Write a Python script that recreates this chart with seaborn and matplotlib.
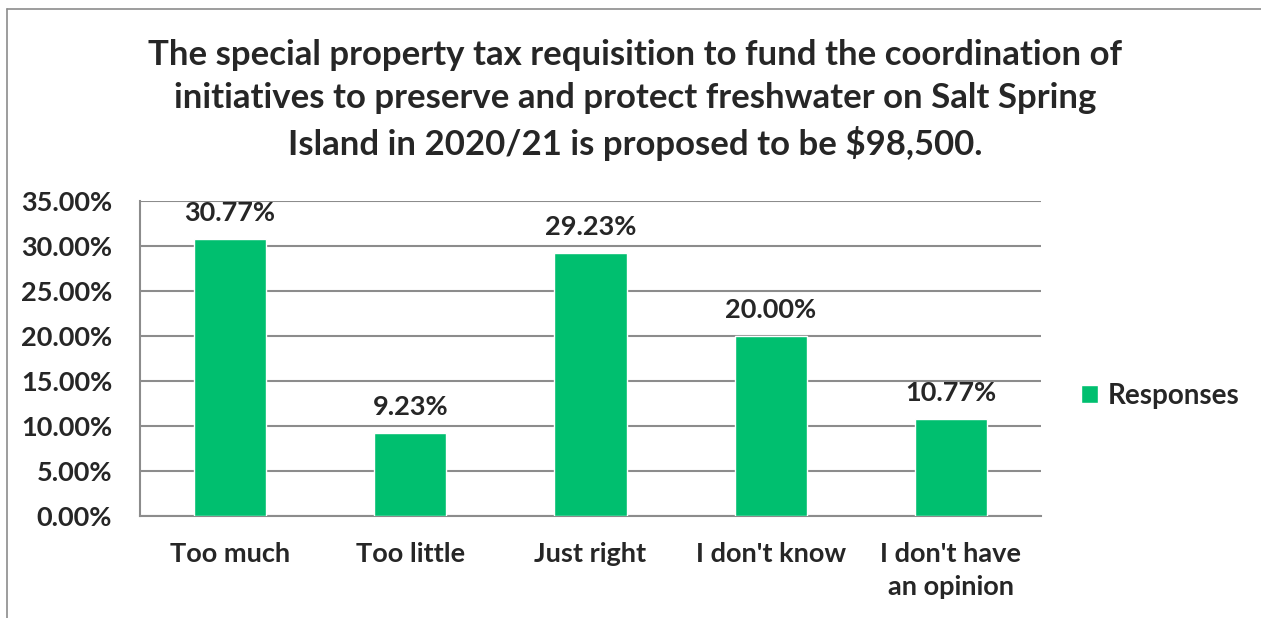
import numpy as np
import pandas as pd
import matplotlib.pyplot as plt
import seaborn as sns
from matplotlib.ticker import PercentFormatter, FixedLocator
from matplotlib.patches import Patch
from matplotlib.lines import Line2D

categories = ["Too much", "Too little", "Just right", "I don't know", "I don't have\nan opinion"]
responses = [30.77, 9.23, 29.23, 20.00, 10.77]
series_name = "Responses"
title = ("The special property tax requisition to fund the coordination of\n"
         "initiatives to preserve and protect freshwater on Salt Spring\n"
         "Island in 2020/21 is proposed to be $98,500.")

bar_color = "#00BF6F"
grid_color = "#8C8C8C"

sns.set_style("white")
plt.rcParams['font.family'] = ['Lato', 'DejaVu Sans']
plt.rcParams['font.weight'] = 'bold'

df = pd.DataFrame({"category": categories, "pct": responses})

fig = plt.figure(figsize=(12.61, 6.18), dpi=100)
ax = fig.add_axes([140/1261, 1 - 516/618, (1041 - 140)/1261, (516 - 201)/618])

sns.barplot(data=df, x="category", y="pct", color=bar_color, width=0.4,
            saturation=1, ax=ax, zorder=3)

# value labels above bars
for i, v in enumerate(responses):
    ax.annotate(f"{v:.2f}%", (i, v), xytext=(0, 26), textcoords="offset pixels",
                ha="center", va="center", fontsize=19.5, fontweight="bold")

ax.set_ylim(0, 35)
ax.set_xlim(-0.5, len(categories) - 0.5)
ax.yaxis.set_major_locator(FixedLocator(np.arange(0, 35.1, 5)))
ax.yaxis.set_major_formatter(PercentFormatter(decimals=2))
ax.grid(axis="y", color=grid_color, linewidth=1.5, zorder=0)
ax.set_axisbelow(True)

ax.set_xlabel("")
ax.set_ylabel("")
ax.tick_params(axis="y", length=7, width=1.5, color=grid_color, labelsize=19.5, pad=13)
ax.tick_params(axis="x", which="major", length=0, labelsize=19.5, pad=19)
ax.set_xticks(np.arange(-0.5, len(categories), 1), minor=True)
ax.tick_params(axis="x", which="minor", length=8, width=1.5, color=grid_color)
for lbl in ax.get_xticklabels() + ax.get_yticklabels():
    lbl.set_fontweight("bold")
    lbl.set_linespacing(1.45)

for s in ["top", "right"]:
    ax.spines[s].set_visible(False)
for s in ["left", "bottom"]:
    ax.spines[s].set_color(grid_color)
    ax.spines[s].set_linewidth(1.5)

fig.text(635/1261, 1 - 100/618, title, ha="center", va="center",
         fontsize=25, fontweight="bold", linespacing=1.42)

ax.legend(handles=[Patch(facecolor=bar_color, label=series_name)],
          loc="center left", bbox_to_anchor=(1056/1261, 1 - 396/618),
          bbox_transform=fig.transFigure, frameon=False,
          handlelength=0.6, handleheight=0.6, handletextpad=0.35,
          prop={"weight": "bold", "size": 20})

# chart border (top and left edges visible)
fig.add_artist(Line2D([7/1261, 1], [1 - 9/618, 1 - 9/618], color=grid_color, linewidth=1.2))
fig.add_artist(Line2D([7/1261, 7/1261], [0, 1 - 9/618], color=grid_color, linewidth=1.2))

fig.savefig("out.png", dpi=100, facecolor="white")
